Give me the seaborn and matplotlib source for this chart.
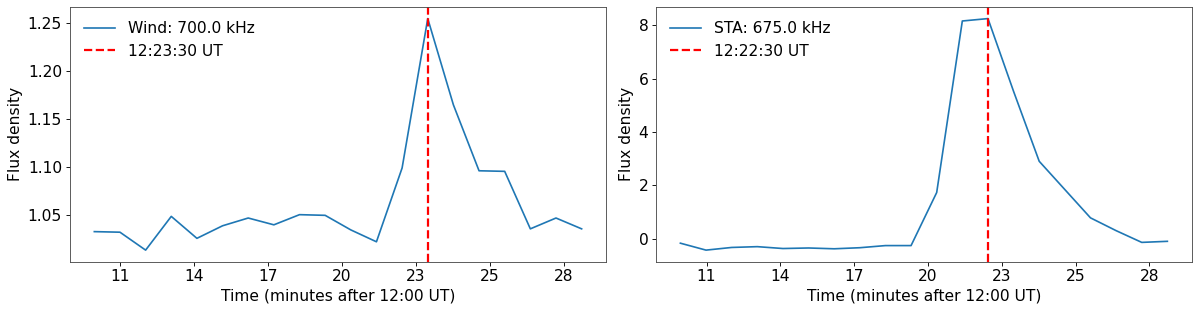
import numpy as np
import pandas as pd
import matplotlib
matplotlib.use("Agg")
import matplotlib.pyplot as plt
import seaborn as sns

# Time in minutes after 12:00 UT
times = [10.5, 11.5, 12.5, 13.5, 14.5, 15.5, 16.5, 17.5, 18.5, 19.5,
         20.5, 21.5, 22.5, 23.5, 24.5, 25.5, 26.5, 27.5, 28.5, 29.5]

wind_flux = [1.0323, 1.0317, 1.0130, 1.0482, 1.0253, 1.0384, 1.0465, 1.0394, 1.0500, 1.0493,
             1.0341, 1.0217, 1.0987, 1.2546, 1.1646, 1.0958, 1.0952, 1.0352, 1.0465, 1.0352]

sta_flux = [-0.17, -0.43, -0.33, -0.30, -0.37, -0.35, -0.38, -0.34, -0.26, -0.26,
            1.73, 8.16, 8.25, 5.52, 2.90, 1.84, 0.78, 0.30, -0.14, -0.10]

wind_label = "Wind: 700.0 kHz"
sta_label = "STA: 675.0 kHz"
wind_peak = 23.5   # 12:23:30 UT
sta_peak = 22.5    # 12:22:30 UT
wind_peak_label = "12:23:30 UT"
sta_peak_label = "12:22:30 UT"

# x ticks fall on multiples of 0.002 day (matplotlib date units), shown as whole minutes
tick_days = [0.008, 0.010, 0.012, 0.014, 0.016, 0.018, 0.020]
tick_labels = ["11", "14", "17", "20", "23", "25", "28"]

plt.rcParams["font.family"] = ["DejaVu Sans"]
plt.rcParams["font.size"] = 14

df = pd.DataFrame({"time": times, "wind": wind_flux, "sta": sta_flux})

fig = plt.figure(figsize=(15, 3.9125), dpi=80)
ax1 = fig.add_axes([0.0583, 0.1639, 0.4467, 0.8137])
ax2 = fig.add_axes([0.5467, 0.1639, 0.4464, 0.8137])

panels = [
    (ax1, "wind", wind_label, wind_peak, wind_peak_label),
    (ax2, "sta", sta_label, sta_peak, sta_peak_label),
]

for ax, col, lab, peak, peak_lab in panels:
    sns.lineplot(data=df, x="time", y=col, ax=ax, color="#1f77b4",
                 linewidth=1.5, label=lab)
    ax.axvline(peak, color="red", linestyle="--", linewidth=2, label=peak_lab)
    ax.set_xticks([d * 1440 for d in tick_days])
    ax.set_xticklabels(tick_labels)
    ax.set_xlabel("Time (minutes after 12:00 UT)")
    ax.set_ylabel("Flux density")
    ax.legend(loc="upper left", frameon=False)
    for sp in ax.spines.values():
        sp.set_color("0.3")

fig.savefig("out.png", dpi=80)
